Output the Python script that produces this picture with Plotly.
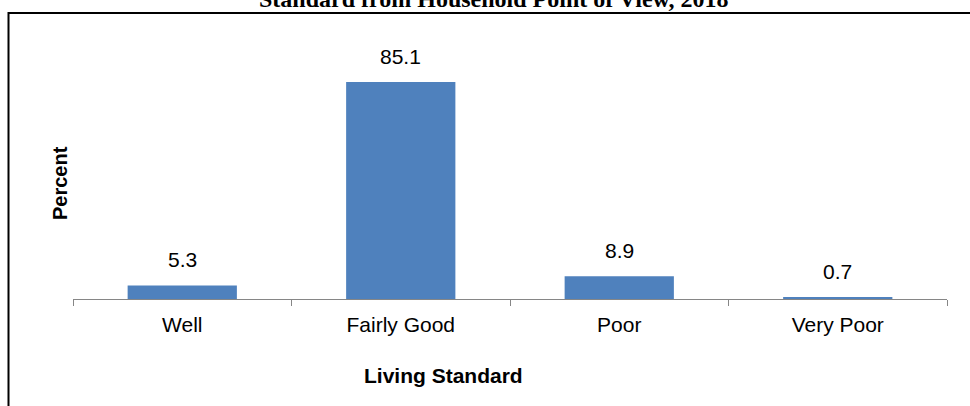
import plotly.graph_objects as go

categories = ["Well", "Fairly Good", "Poor", "Very Poor"]
percent = [5.3, 85.1, 8.9, 0.7]
title_text = "Standard from Household Point of View, 2018"
x_title = "Living Standard"
y_title = "Percent"

BAR_COLOR = "#4F81BD"
AXIS_COLOR = "#868686"
SANS = "Liberation Sans, Arial, sans-serif"
SERIF = "Liberation Serif, Times New Roman, serif"

W, H = 970, 406
ML, MT = 73, 44
PLOT_BOTTOM = 299
PLOT_RIGHT = 947
MR = W - PLOT_RIGHT
MB = H - PLOT_BOTTOM
PW = W - ML - MR
PH = H - MT - MB

fig = go.Figure()
fig.add_trace(go.Bar(
    x=categories, y=percent, width=0.5,
    marker=dict(color=BAR_COLOR, line=dict(width=0)),
    hoverinfo="x+y",
))

annotations = []
for c, v in zip(categories, percent):
    annotations.append(dict(
        x=c, y=v, xref="x", yref="y", text=f"{v:.1f}", showarrow=False,
        yanchor="middle", yshift=26, font=dict(family=SANS, size=21, color="#000000"),
    ))

# title (partially clipped at the top edge, as in the original)
annotations.append(dict(
    x=(494 - ML) / PW, y=1, xref="paper", yref="paper", text=f"<b>{title_text}</b>",
    showarrow=False, xanchor="center", yanchor="middle", yshift=MT - (-1),
    font=dict(family=SERIF, size=24, color="#000000"),
))
# x axis title
annotations.append(dict(
    x=(443 - ML) / PW, y=0, xref="paper", yref="paper", text=f"<b>{x_title}</b>",
    showarrow=False, xanchor="center", yanchor="middle", yshift=-(375 - PLOT_BOTTOM),
    font=dict(family=SANS, size=21, color="#000000"),
))
# y axis title
annotations.append(dict(
    x=(60 - ML) / PW, y=(PLOT_BOTTOM - 183) / PH, xref="paper", yref="paper",
    text=f"<b>{y_title}</b>",
    showarrow=False, xanchor="center", yanchor="middle", textangle=-90,
    font=dict(family=SANS, size=20, color="#000000"),
))

# outer border frame
shapes = [dict(
    type="rect", xref="paper", yref="paper",
    x0=(8.5 - ML) / PW, x1=(W + 20 - ML) / PW,
    y0=(PLOT_BOTTOM - (H + 20)) / PH, y1=(PLOT_BOTTOM - 13) / PH,
    line=dict(color="#000000", width=2), fillcolor="rgba(0,0,0,0)", layer="above",
)]

fig.update_layout(
    width=W, height=H,
    margin=dict(l=ML, r=MR, t=MT, b=MB, pad=0),
    paper_bgcolor="#FFFFFF", plot_bgcolor="#FFFFFF",
    showlegend=False,
    annotations=annotations,
    shapes=shapes,
    xaxis=dict(
        type="category", showline=True, linecolor=AXIS_COLOR, linewidth=1,
        ticks="outside", tickson="boundaries", ticklen=6, tickcolor=AXIS_COLOR, tickwidth=1,
        ticklabelstandoff=7,
        tickfont=dict(family=SANS, size=21, color="#000000"),
        showgrid=False, zeroline=False, fixedrange=True,
    ),
    yaxis=dict(
        range=[0, 100], visible=False, showgrid=False, zeroline=False, fixedrange=True,
    ),
)

fig.write_html(
    "out.html",
    config={"displayModeBar": False},
    post_script="document.body.style.margin='0';document.body.style.overflow='hidden';",
)
